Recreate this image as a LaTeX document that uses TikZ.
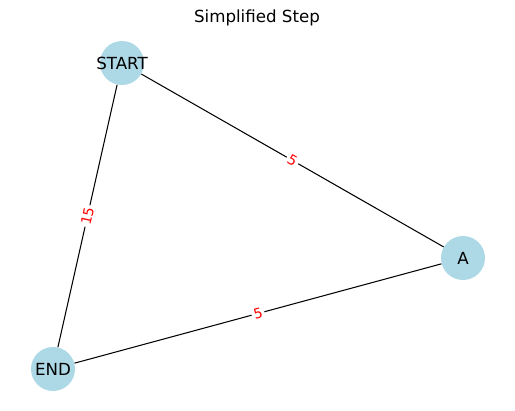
\documentclass[tikz,border=0pt]{standalone}
\usepackage{fontspec}
\setmainfont{DejaVu Sans}
\begin{document}
\begin{tikzpicture}[x=0.72pt,y=-0.72pt,
  vertex/.style={circle,fill={rgb,255:red,173;green,216;blue,230},draw=none,
    minimum size=31.7pt,inner sep=0pt,
    label={[font=\fontsize{12}{14}\selectfont,inner sep=0pt]center:#1}},
  link/.style={draw=black,line width=0.75pt},
  weight/.style={midway,sloped,fill=white,rounded corners=2pt,inner sep=1.5pt,
    text=red,font=\fontsize{10}{12}\selectfont}]
  \useasboundingbox (0,0) rectangle (515,411);
  \node[font=\fontsize{12}{14}\selectfont] (title) at (257,18) {Simplified Step};
  \node[vertex=START] (start) at (122,63) {};
  \node[vertex=A] (a) at (463,258) {};
  \node[vertex=END] (end) at (53,369) {};
  \draw[link] (start) -- (a) node[weight] {5};
  \draw[link] (start) -- (end) node[weight] {15};
  \draw[link] (end) -- (a) node[weight] {5};
\end{tikzpicture}
\end{document}
